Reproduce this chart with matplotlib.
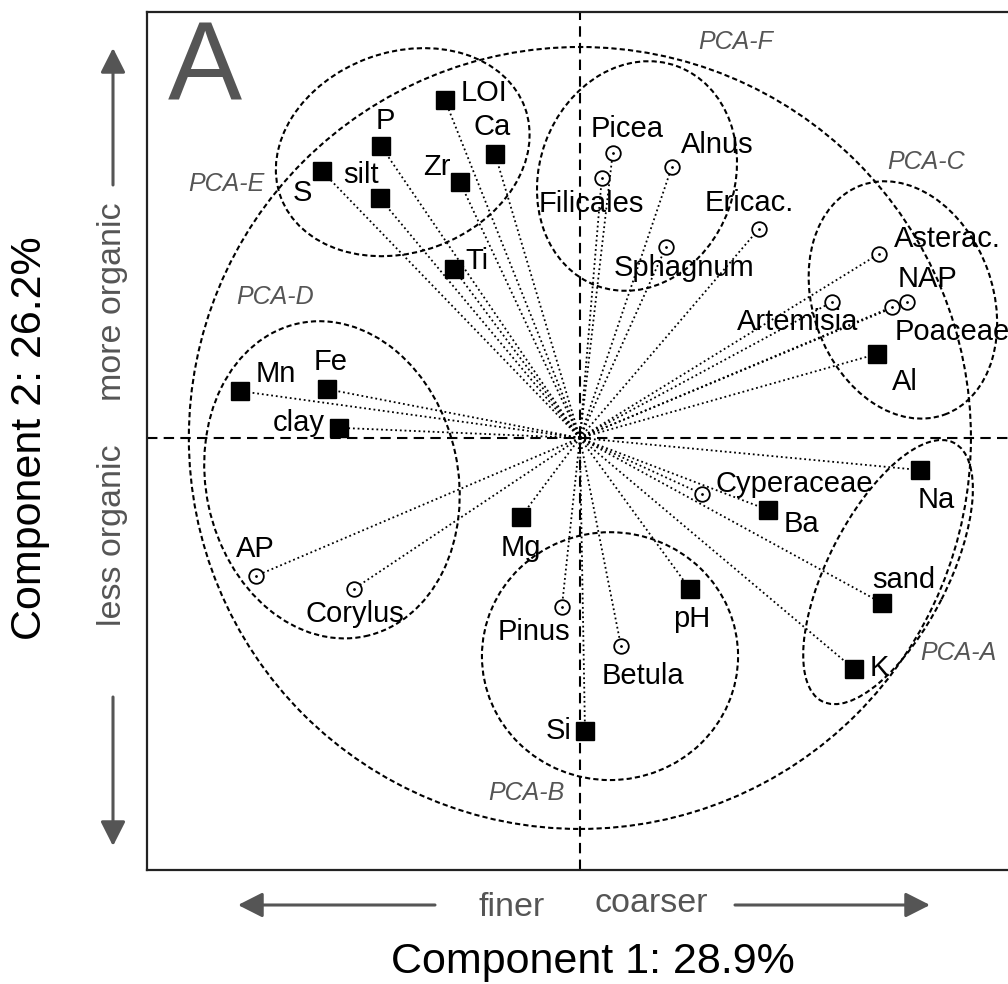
import matplotlib.pyplot as plt
from matplotlib.patches import Ellipse, FancyArrowPatch

# loadings of the geochemical / grain-size variables (squares)
elements = ["LOI", "P", "Ca", "S", "Zr", "silt", "Ti", "Mn", "Fe", "clay", "Mg",
            "Al", "Na", "Ba", "pH", "sand", "K", "Si"]
elem_pc1 = [-0.345, -0.509, -0.217, -0.660, -0.307, -0.512, -0.322, -0.870, -0.647,
            -0.616, -0.151, 0.760, 0.870, 0.481, 0.281, 0.772, 0.701, 0.013]
elem_pc2 = [0.864, 0.747, 0.726, 0.683, 0.655, 0.614, 0.432, 0.120, 0.125,
            0.026, -0.202, 0.215, -0.082, -0.184, -0.386, -0.422, -0.591, -0.749]

# loadings of the pollen taxa (circles)
pollen = ["Picea", "Filicales", "Alnus", "Ericac.", "Sphagnum", "Asterac.", "NAP",
          "Poaceae", "Artemisia", "Cyperaceae", "AP", "Corylus", "Pinus", "Betula"]
pollen_pc1 = [0.084, 0.056, 0.235, 0.458, 0.220, 0.765, 0.836,
              0.798, 0.645, 0.312, -0.829, -0.578, -0.046, 0.105]
pollen_pc2 = [0.729, 0.665, 0.693, 0.535, 0.488, 0.471, 0.348,
              0.335, 0.348, -0.143, -0.353, -0.386, -0.432, -0.532]

pc1_label = "Component 1: 28.9%"
pc2_label = "Component 2: 26.2%"

# label offsets in pixels (right, up) from each marker
label_offsets = {
    "LOI": (39, 7), "P": (4, 25), "Ca": (-3, 27), "S": (-19, -22), "silt": (-19, 23),
    "Zr": (-23, 15), "Ti": (23, 8), "Mn": (36, 17), "Fe": (4, 27), "clay": (-40, 5),
    "Mg": (0, -31), "Al": (28, -28), "Na": (16, -30), "Ba": (33, -14), "pH": (2, -30),
    "sand": (22, 23), "K": (25, 1), "Si": (-26, 0),
    "Picea": (14, 24), "Filicales": (-10, -26), "Alnus": (45, 22), "Ericac.": (-10, 26),
    "Sphagnum": (18, -21), "Asterac.": (68, 15), "NAP": (21, 23), "Poaceae": (60, -25),
    "Artemisia": (-34, -20), "Cyperaceae": (92, 10), "AP": (0, 27), "Corylus": (1, -25),
    "Pinus": (-28, -25), "Betula": (22, -30),
}

# group outlines: name, centre, width, height, angle, label position
group_shapes = [
    ("PCA-A", (0.788, -0.343), 0.742, 0.307, 63, (0.967, -0.550)),
    ("PCA-B", (0.077, -0.558), 0.655, 0.634, 0, (-0.137, -0.908)),
    ("PCA-C", (0.826, 0.353), 0.460, 0.624, 20, (0.885, 0.705)),
    ("PCA-D", (-0.634, -0.107), 0.645, 0.818, 12, (-0.780, 0.361)),
    ("PCA-E", (-0.453, 0.731), 0.665, 0.512, 20, (-0.905, 0.650)),
    ("PCA-F", (0.146, 0.670), 0.499, 0.598, -20, (0.399, 1.013)),
]

plt.rcParams['font.family'] = ['Liberation Sans']
GREY = "#555555"

W, H = 1008, 984
fig = plt.figure(figsize=(W / 100, H / 100), dpi=100)


def fpos(px, py):
    # pixel position -> figure fraction
    return px / W, 1 - py / H


ax = fig.add_axes([147 / W, 1 - 870 / H, (1012 - 147) / W, 858 / H])
ax.set_xlim(-1.107, 1.105)
ax.set_ylim(-1.105, 1.0895)
ax.set_xticks([])
ax.set_yticks([])
for side in ["top", "bottom", "left"]:
    ax.spines[side].set_linewidth(1.6)
    ax.spines[side].set_color("#222222")
ax.spines["right"].set_visible(False)

# dashed origin lines
ax.axhline(0, color="k", lw=1.5, dashes=(5, 3), zorder=1)
ax.axvline(0, color="k", lw=1.5, dashes=(5, 3), zorder=1)

# correlation circle and group outlines
ax.add_patch(Ellipse((0, 0), 2.0, 2.0, fill=False, lw=1.5, ls=(0, (2.5, 1.5)), zorder=1))
for name, centre, w, h, ang, lab in group_shapes:
    ax.add_patch(Ellipse(centre, w, h, angle=ang, fill=False, lw=1.5,
                         ls=(0, (2.5, 1.5)), zorder=1))
    ax.text(lab[0], lab[1], name, fontsize=18, style="italic", color=GREY,
            ha="center", va="center")

# vectors from the origin
for x, y in zip(elem_pc1 + pollen_pc1, elem_pc2 + pollen_pc2):
    ax.plot([0, x], [0, y], color="k", lw=1.3, ls=(0, (1, 1.6)), zorder=2)

ax.plot(elem_pc1, elem_pc2, "s", ms=12.5, color="k", zorder=4)
ax.plot(pollen_pc1, pollen_pc2, "o", ms=10.5, mfc="white", mec="k", mew=1.3, zorder=4)
ax.plot(pollen_pc1, pollen_pc2, ".", ms=2, color="k", zorder=5)

for name, x, y in zip(elements + pollen, elem_pc1 + pollen_pc1, elem_pc2 + pollen_pc2):
    ax.annotate(name, (x, y), xytext=label_offsets[name], textcoords="offset pixels",
                ha="center", va="center", fontsize=21, zorder=6)

# panel letter
fig.text(*fpos(205, 70), "A", fontsize=80, color=GREY, ha="center", va="center")

# axis titles and direction arrows
fig.text(*fpos(593, 962), pc1_label, fontsize=31, ha="center", va="center")
fig.text(*fpos(30, 438), pc2_label, fontsize=31, rotation=90, ha="center", va="center")

fig.text(*fpos(512, 907), "finer", fontsize=24.5, color=GREY, ha="center", va="center")
fig.text(*fpos(651, 903), "coarser", fontsize=24.5, color=GREY, ha="center", va="center")
fig.text(*fpos(113, 302), "more organic", fontsize=24.5, color=GREY, rotation=90,
         ha="center", va="center")
fig.text(*fpos(113, 535), "less organic", fontsize=24.5, color=GREY, rotation=90,
         ha="center", va="center")

for tail, tip in [((113, 185), (113, 48)), ((113, 697), (113, 846)),
                  ((435, 905), (238, 905)), ((735, 905), (930, 905))]:
    fig.add_artist(FancyArrowPatch(fpos(*tail), fpos(*tip), transform=fig.transFigure,
                                   arrowstyle="-|>,head_length=0.75,head_width=0.38",
                                   mutation_scale=20, lw=2.2, color=GREY,
                                   shrinkA=0, shrinkB=0))

fig.savefig("out.png", dpi=100)
